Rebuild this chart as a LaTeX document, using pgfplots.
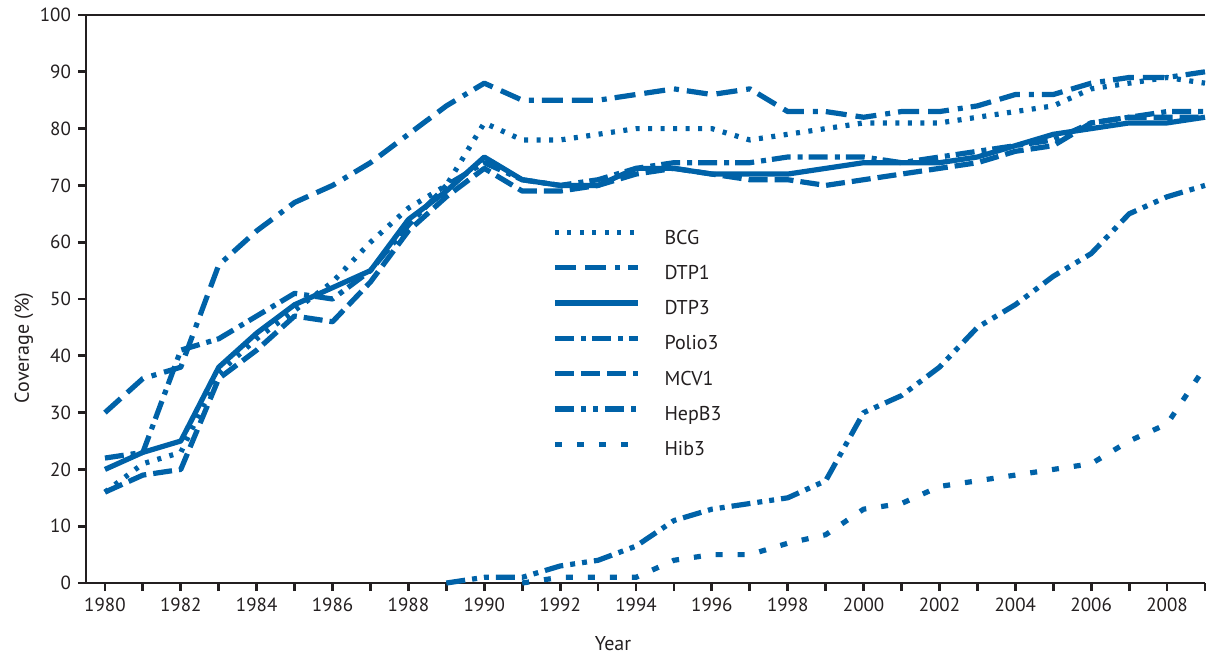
\documentclass[border=0pt]{standalone}
\usepackage{fontspec}
\setmainfont{PT Sans}
\usepackage{pgfplots}
\pgfplotsset{compat=1.18}
\definecolor{cblue}{RGB}{0,98,168}
\definecolor{axgray}{RGB}{35,31,32}

\pgfplotstableread{
year bcg dtp1 dtp3 polio3 mcv1
1980 16 30 20 22 16
1981 21 36 23 23 19
1982 23 38 25 41 20
1983 37 56 38 43 36
1984 43 62 44 47 41
1985 48 67 49 51 47
1986 53 70 52 50 46
1987 60 74 55 55 53
1988 66 79 64 63 62
1989 70 84 69 70 68
1990 81 88 75 74 73
1991 78 85 71 71 69
1992 78 85 70 70 69
1993 79 85 70 71 70
1994 80 86 73 73 72
1995 80 87 73 74 73
1996 80 86 72 74 72
1997 78 87 72 74 71
1998 79 83 72 75 71
1999 80 83 73 75 70
2000 81 82 74 75 71
2001 81 83 74 74 72
2002 81 83 74 75 73
2003 82 84 75 76 74
2004 83 86 77 77 76
2005 84 86 79 78 77
2006 87 88 80 81 81
2007 88 89 81 82 82
2008 89 89 81 83 82
2009 88 90 82 83 82
}\maintable

\pgfplotstableread{
year hepb3
1989 0
1990 1
1991 1
1992 3
1993 4
1994 6.5
1995 11
1996 13
1997 14
1998 15
1999 18
2000 30
2001 33
2002 38
2003 45
2004 49
2005 54
2006 58
2007 65
2008 68
2009 70
}\hepbtable

\pgfplotstableread{
year hib3
1991 0
1992 1
1993 1
1994 1
1995 4
1996 5
1997 5
1998 7
1999 8.5
2000 13
2001 14
2002 17
2003 18
2004 19
2005 20
2006 21
2007 25
2008 28
2009 38
}\hibtable

\begin{document}
\begin{tikzpicture}
\begin{axis}[
  scale only axis, width=559.5pt, height=284pt,
  xmin=1979.5, xmax=2009, ymin=0, ymax=100,
  axis x line*=bottom, axis y line*=left,
  axis line style={axgray, line width=1.4pt, -},
  xtick={1980,1982,...,2008}, minor xtick={1981,1983,...,2009},
  ytick={0,10,...,100},
  tick style={axgray, line width=1.4pt},
  major tick length=4pt, minor tick length=4pt,
  tick align=outside,
  /pgf/number format/assume math mode=true,
  xticklabel style={/pgf/number format/1000 sep={}},
  ticklabel style={font=\fontsize{9.5}{11}\selectfont, text=axgray},
  xlabel={Year}, ylabel={Coverage (\%)},
  label style={font=\fontsize{10}{12}\selectfont, text=axgray},
  xlabel style={at={(axis description cs:0.471,-0.0825)}, anchor=north},
  ylabel style={at={(axis description cs:-0.0554,0.414)}, anchor=center},
  clip=false,
  legend style={draw=none, fill=none, at={(0.4164,0.6224)}, anchor=north west,
    inner sep=0pt, row sep=8.55pt, column sep=12pt,
    nodes={inner sep=0pt, text height=7pt, text depth=2pt},
    font=\fontsize{10}{12}\selectfont, text=axgray},
  legend cell align=left,
  legend image code/.code={\draw[#1] (0pt,3.3pt) -- (41.5pt,3.3pt);},
  every axis plot/.append style={cblue, line width=2.6pt, line join=round},
]
\addplot[dash pattern=on 2pt off 4.25pt] table[x=year,y=bcg] {\maintable};
\addlegendentry{BCG}
\addplot[dash pattern=on 10.5pt off 4.5pt on 10.5pt off 4.5pt on 2.5pt off 4pt] table[x=year,y=dtp1] {\maintable};
\addlegendentry{DTP1}
\addplot[solid] table[x=year,y=dtp3] {\maintable};
\addlegendentry{DTP3}
\addplot[dash pattern=on 9.5pt off 3.5pt on 2.5pt off 3pt] table[x=year,y=polio3] {\maintable};
\addlegendentry{Polio3}
\addplot[dash pattern=on 9.5pt off 3.5pt] table[x=year,y=mcv1] {\maintable};
\addlegendentry{MCV1}
\addplot[dash pattern=on 9.5pt off 3.5pt on 2.5pt off 3.5pt on 2.5pt off 3.5pt] table[x=year,y=hepb3] {\hepbtable};
\addlegendentry{HepB3}
\addplot[dash pattern=on 3.5pt off 7.5pt] table[x=year,y=hib3] {\hibtable};
\addlegendentry{Hib3}
\draw[axgray, line width=1.4pt] (rel axis cs:0,1) -- (rel axis cs:1,1);
\coordinate (bl) at (rel axis cs:-0.07685,-0.12676);
\coordinate (tr) at (rel axis cs:1.01072,1.02641);
\end{axis}
\pgfresetboundingbox
\path (bl) rectangle (tr);
\end{tikzpicture}
\end{document}
